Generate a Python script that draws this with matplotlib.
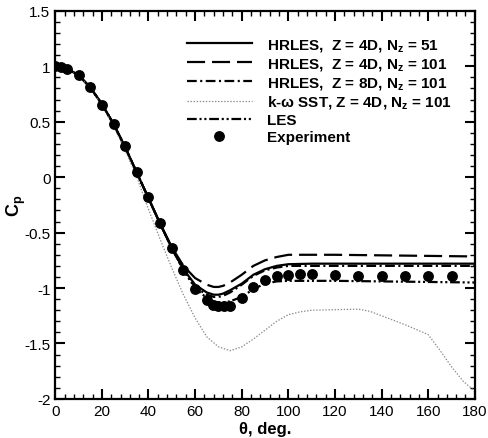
import numpy as np
import matplotlib
matplotlib.use("Agg")
import matplotlib.pyplot as plt
from matplotlib.ticker import MultipleLocator, FormatStrFormatter

plt.rcParams['font.family'] = ['Liberation Sans', 'DejaVu Sans']
plt.rcParams['mathtext.fontset'] = 'custom'
plt.rcParams['mathtext.rm'] = 'Liberation Sans:bold'
plt.rcParams['mathtext.bf'] = 'Liberation Sans:bold'
plt.rcParams['mathtext.default'] = 'bf'
plt.rcParams['axes.unicode_minus'] = False
plt.rcParams['lines.scale_dashes'] = False

# ---- data ----
theta_les = [0, 5, 10, 15, 20, 25, 30, 35, 40, 45, 50, 55, 60, 65, 68, 70, 72, 75,
             80, 85, 90, 95, 100, 110, 120, 140, 160, 180]
cp_nz51 = [1.0, 0.98, 0.92, 0.81, 0.66, 0.48, 0.27, 0.04, -0.19, -0.42, -0.64, -0.83,
           -0.97, -1.04, -1.06, -1.06, -1.05, -1.02, -0.96, -0.88, -0.83, -0.80, -0.785,
           -0.78, -0.78, -0.78, -0.78, -0.78]
cp_nz101 = [1.0, 0.98, 0.92, 0.81, 0.66, 0.48, 0.27, 0.04, -0.19, -0.42, -0.63, -0.80,
            -0.91, -0.97, -0.99, -0.99, -0.98, -0.95, -0.88, -0.80, -0.75, -0.72, -0.70,
            -0.70, -0.70, -0.705, -0.71, -0.715]
cp_8d = [1.0, 0.98, 0.92, 0.81, 0.66, 0.48, 0.27, 0.04, -0.19, -0.42, -0.64, -0.84,
         -0.99, -1.06, -1.08, -1.08, -1.07, -1.04, -0.97, -0.89, -0.84, -0.815, -0.80,
         -0.80, -0.80, -0.80, -0.80, -0.80]
cp_les = [1.0, 0.98, 0.92, 0.81, 0.66, 0.48, 0.27, 0.04, -0.19, -0.42, -0.64, -0.84,
          -1.0, -1.09, -1.12, -1.13, -1.13, -1.12, -1.08, -1.01, -0.96, -0.94, -0.935,
          -0.935, -0.935, -0.94, -0.945, -0.95]

theta_sst = [0, 5, 10, 15, 20, 25, 30, 35, 40, 45, 50, 55, 60, 65, 70, 75, 80, 85, 90,
             95, 100, 105, 110, 120, 130, 135, 140, 150, 160, 165, 170, 175, 180]
cp_sst = [1.0, 0.98, 0.92, 0.80, 0.65, 0.46, 0.24, 0.0, -0.29, -0.56, -0.82, -1.06,
          -1.27, -1.44, -1.53, -1.565, -1.53, -1.46, -1.38, -1.30, -1.24, -1.215, -1.20,
          -1.195, -1.19, -1.21, -1.25, -1.33, -1.42, -1.56, -1.71, -1.84, -1.93]

theta_exp = [0, 2.5, 5, 10, 15, 20, 25, 30, 35, 40, 45, 50, 55, 60, 65, 67.5, 70, 72.5,
             75, 80, 85, 90, 95, 100, 105, 110, 120, 130, 140, 150, 160, 170]
cp_exp = [1.0, 0.99, 0.98, 0.92, 0.81, 0.655, 0.48, 0.28, 0.05, -0.18, -0.41, -0.64,
          -0.84, -1.01, -1.11, -1.15, -1.16, -1.16, -1.16, -1.09, -0.99, -0.93, -0.895,
          -0.88, -0.875, -0.875, -0.88, -0.895, -0.895, -0.89, -0.89, -0.895]

fig = plt.figure(figsize=(4.89, 4.39), dpi=100)
ax = fig.add_axes([0.113, 0.089, 0.858, 0.884])

lw = 1.6
ax.plot(theta_les, cp_nz51, color='k', lw=lw, label=r'HRLES,  Z = 4D, N$_z$ = 51')
ax.plot(theta_les, cp_nz101, color='k', lw=lw, dashes=(13, 5),
        label=r'HRLES,  Z = 4D, N$_z$ = 101')
ax.plot(theta_les, cp_8d, color='k', lw=lw, dashes=(7, 2.5, 1.5, 2.5),
        label=r'HRLES,  Z = 8D, N$_z$ = 101')
ax.plot(theta_sst, cp_sst, color='#8a8a8a', lw=0.9, dashes=(1, 1.2),
        label=r'k-ω SST, Z = 4D, N$_z$ = 101')
ax.plot(theta_les, cp_les, color='k', lw=lw, dashes=(7, 2, 1.5, 2, 1.5, 2), label='LES')
ax.plot(theta_exp, cp_exp, 'o', color='k', ms=6.8, label='Experiment')

ax.set_xlim(0, 180)
ax.set_ylim(-2, 1.5)
ax.xaxis.set_major_locator(MultipleLocator(20))
ax.xaxis.set_minor_locator(MultipleLocator(4))
ax.yaxis.set_major_locator(MultipleLocator(0.5))
ax.yaxis.set_minor_locator(MultipleLocator(0.1))
ax.yaxis.set_major_formatter(FormatStrFormatter('%g'))
ax.tick_params(which='both', direction='in', top=True, right=True, labelsize=11)
ax.tick_params(which='major', length=7, width=1.5)
ax.tick_params(which='minor', length=3.5, width=1)
for s in ax.spines.values():
    s.set_linewidth(1.6)

ax.set_xlabel('θ, deg.', fontsize=12, fontweight='bold', labelpad=2)
ax.set_ylabel(r'C$_p$', fontsize=13, fontweight='bold')
ax.yaxis.set_label_coords(-0.065, 0.5)

leg = ax.legend(loc='upper left', bbox_to_anchor=(0.314, 0.932), frameon=False,
                fontsize=11, handlelength=4.25, handletextpad=1.0, labelspacing=0.18,
                borderaxespad=0, borderpad=0)
for t in leg.get_texts():
    t.set_fontweight('bold')

fig.savefig('out.png', dpi=100)
